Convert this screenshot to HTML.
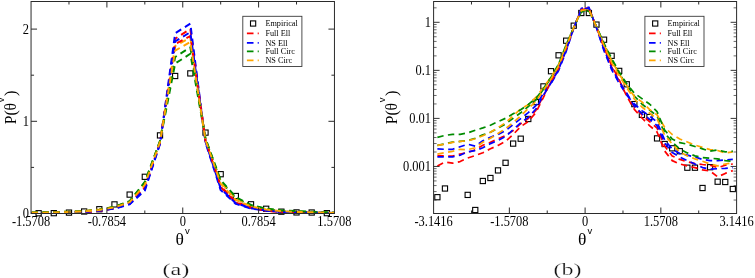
<!DOCTYPE html>
<html><head><meta charset="utf-8"><title>fig</title>
<style>html,body{margin:0;padding:0;background:#fff;}svg{display:block;will-change:transform;}</style></head>
<body>
<svg width="755" height="278" viewBox="0 0 755 278">
<rect width="755" height="278" fill="#ffffff"/>
<defs><clipPath id="cl"><rect x="31.05" y="1.5" width="303.4" height="212"/></clipPath><clipPath id="cr"><rect x="433.6" y="1.5" width="303" height="212"/></clipPath></defs>
<g>
<rect x="36.03" y="210.62" width="5.2" height="5.2" fill="none" stroke="#000" stroke-width="1.1"/>
<rect x="51.20" y="210.55" width="5.2" height="5.2" fill="none" stroke="#000" stroke-width="1.1"/>
<rect x="66.38" y="210.00" width="5.2" height="5.2" fill="none" stroke="#000" stroke-width="1.1"/>
<rect x="81.55" y="208.89" width="5.2" height="5.2" fill="none" stroke="#000" stroke-width="1.1"/>
<rect x="96.72" y="206.63" width="5.2" height="5.2" fill="none" stroke="#000" stroke-width="1.1"/>
<rect x="111.88" y="201.80" width="5.2" height="5.2" fill="none" stroke="#000" stroke-width="1.1"/>
<rect x="127.06" y="192.00" width="5.2" height="5.2" fill="none" stroke="#000" stroke-width="1.1"/>
<rect x="142.22" y="174.20" width="5.2" height="5.2" fill="none" stroke="#000" stroke-width="1.1"/>
<rect x="157.40" y="132.80" width="5.2" height="5.2" fill="none" stroke="#000" stroke-width="1.1"/>
<rect x="172.56" y="73.40" width="5.2" height="5.2" fill="none" stroke="#000" stroke-width="1.1"/>
<rect x="187.73" y="70.80" width="5.2" height="5.2" fill="none" stroke="#000" stroke-width="1.1"/>
<rect x="202.91" y="130.00" width="5.2" height="5.2" fill="none" stroke="#000" stroke-width="1.1"/>
<rect x="218.07" y="171.60" width="5.2" height="5.2" fill="none" stroke="#000" stroke-width="1.1"/>
<rect x="233.25" y="193.40" width="5.2" height="5.2" fill="none" stroke="#000" stroke-width="1.1"/>
<rect x="248.41" y="201.70" width="5.2" height="5.2" fill="none" stroke="#000" stroke-width="1.1"/>
<rect x="263.58" y="206.17" width="5.2" height="5.2" fill="none" stroke="#000" stroke-width="1.1"/>
<rect x="278.75" y="209.07" width="5.2" height="5.2" fill="none" stroke="#000" stroke-width="1.1"/>
<rect x="293.92" y="209.81" width="5.2" height="5.2" fill="none" stroke="#000" stroke-width="1.1"/>
<rect x="309.09" y="209.91" width="5.2" height="5.2" fill="none" stroke="#000" stroke-width="1.1"/>
<rect x="324.26" y="210.55" width="5.2" height="5.2" fill="none" stroke="#000" stroke-width="1.1"/>
</g><g clip-path="url(#cl)">
<polyline points="-113.06,213.34 -97.90,213.35 -82.72,213.35 -67.56,213.33 -52.38,213.32 -37.21,213.29 -22.05,213.25 -6.88,213.21 8.29,213.15 23.46,213.09 38.63,212.99 53.80,212.78 68.97,212.58 84.14,212.14 99.31,210.78 114.48,208.22 129.66,203.57 144.82,188.46 160.00,143.00 175.16,38.70 190.33,29.00 205.50,141.29 220.67,186.98 235.84,202.57 251.01,208.02 266.19,210.50 281.36,211.91 296.52,212.41 311.69,212.71 326.87,212.92 342.03,213.25 357.20,213.35 372.38,213.37 387.55,213.38 402.71,213.39 417.88,213.40 433.06,213.40 448.22,213.41 463.39,213.40 478.56,213.40" fill="none" stroke="#ff0000" stroke-width="1.95" stroke-dasharray="6.4 4.4" stroke-dashoffset="6.5" stroke-linejoin="round"/>
<polyline points="-113.06,213.29 -97.90,213.29 -82.72,213.29 -67.56,213.26 -52.38,213.23 -37.21,213.26 -22.05,213.18 -6.88,213.13 8.29,213.07 23.46,212.99 38.63,212.81 53.80,212.59 68.97,212.28 84.14,211.80 99.31,210.42 114.48,208.61 129.66,204.39 144.82,190.64 160.00,144.01 175.16,33.30 190.33,23.60 205.50,142.66 220.67,190.08 235.84,203.94 251.01,208.52 266.19,210.70 281.36,211.66 296.52,212.16 311.69,212.47 326.87,212.72 342.03,213.17 357.20,213.29 372.38,213.33 387.55,213.34 402.71,213.35 417.88,213.37 433.06,213.38 448.22,213.38 463.39,213.37 478.56,213.37" fill="none" stroke="#0000ff" stroke-width="1.95" stroke-dasharray="6.4 4.4" stroke-dashoffset="6.5" stroke-linejoin="round"/>
<polyline points="-113.06,213.25 -97.90,213.23 -82.72,213.21 -67.56,213.19 -52.38,213.18 -37.21,213.14 -22.05,213.08 -6.88,213.02 8.29,212.92 23.46,212.80 38.63,212.57 53.80,212.29 68.97,211.87 84.14,211.27 99.31,209.76 114.48,207.11 129.66,201.41 144.82,182.73 160.00,141.29 175.16,63.50 190.33,53.80 205.50,138.83 220.67,181.22 235.84,198.21 251.01,205.50 266.19,208.93 281.36,210.80 296.52,211.66 311.69,212.12 326.87,212.46 342.03,213.04 357.20,213.20 372.38,213.29 387.55,213.32 402.71,213.35 417.88,213.36 433.06,213.36 448.22,213.37 463.39,213.38 478.56,213.38" fill="none" stroke="#008b00" stroke-width="1.95" stroke-dasharray="6.4 4.4" stroke-dashoffset="6.5" stroke-linejoin="round"/>
<polyline points="-113.06,213.25 -97.90,213.23 -82.72,213.21 -67.56,213.19 -52.38,213.18 -37.21,213.15 -22.05,213.10 -6.88,213.03 8.29,212.91 23.46,212.75 38.63,212.46 53.80,212.04 68.97,211.73 84.14,210.98 99.31,209.45 114.48,206.80 129.66,201.70 144.82,183.46 160.00,141.64 175.16,46.00 190.33,37.60 205.50,139.54 220.67,182.13 235.84,198.79 251.01,205.83 266.19,209.04 281.36,210.87 296.52,211.47 311.69,212.08 326.87,212.40 342.03,212.90 357.20,213.07 372.38,213.16 387.55,213.20 402.71,213.24 417.88,213.27 433.06,213.29 448.22,213.30 463.39,213.32 478.56,213.31" fill="none" stroke="#ffa500" stroke-width="1.95" stroke-dasharray="6.4 4.4" stroke-dashoffset="6.5" stroke-linejoin="round"/>
<polyline points="-113.06,213.41 -97.90,213.39 -82.72,213.39 -67.56,213.38 -52.38,213.36 -37.21,213.34 -22.05,213.32 -6.88,213.29 8.29,213.25 23.46,213.19 38.63,213.07 53.80,212.88 68.97,212.71 84.14,212.28 99.31,210.98 114.48,208.10 129.66,203.18 144.82,187.23 160.00,142.66 175.16,44.00 190.33,36.00 205.50,140.60 220.67,186.07 235.84,201.87 251.01,207.64 266.19,210.84 281.36,212.08 296.52,212.56 311.69,212.85 326.87,213.02 342.03,213.31 357.20,213.38 372.38,213.40 387.55,213.41 402.71,213.41 417.88,213.42 433.06,213.43 448.22,213.44 463.39,213.43 478.56,213.42" fill="none" stroke="#ff0000" stroke-width="1.95" stroke-dasharray="6.4 4.4" stroke-dashoffset="6.5" stroke-linejoin="round"/>
<polyline points="-113.06,213.35 -97.90,213.35 -82.72,213.35 -67.56,213.34 -52.38,213.31 -37.21,213.30 -22.05,213.27 -6.88,213.22 8.29,213.18 23.46,213.11 38.63,212.96 53.80,212.75 68.97,212.53 84.14,212.05 99.31,210.70 114.48,208.47 129.66,203.94 144.82,189.40 160.00,143.34 175.16,41.30 190.33,32.20 205.50,141.64 220.67,188.58 235.84,203.18 251.01,208.22 266.19,210.43 281.36,211.85 296.52,212.35 311.69,212.61 326.87,212.85 342.03,213.22 357.20,213.32 372.38,213.35 387.55,213.38 402.71,213.40 417.88,213.41 433.06,213.42 448.22,213.42 463.39,213.42 478.56,213.41" fill="none" stroke="#0000ff" stroke-width="1.95" stroke-dasharray="6.4 4.4" stroke-dashoffset="6.5" stroke-linejoin="round"/>
<polyline points="-113.06,213.13 -97.90,213.09 -82.72,213.07 -67.56,213.07 -52.38,213.04 -37.21,212.98 -22.05,212.92 -6.88,212.83 8.29,212.71 23.46,212.57 38.63,212.35 53.80,212.11 68.97,211.70 84.14,211.12 99.31,209.64 114.48,206.86 129.66,201.12 144.82,181.98 160.00,140.94 175.16,57.00 190.33,47.30 205.50,138.47 220.67,180.12 235.84,197.07 251.01,204.98 266.19,208.66 281.36,210.42 296.52,211.12 311.69,211.66 326.87,212.22 342.03,212.97 357.20,213.16 372.38,213.21 387.55,213.23 402.71,213.26 417.88,213.29 433.06,213.31 448.22,213.30 463.39,213.31 478.56,213.31" fill="none" stroke="#008b00" stroke-width="1.95" stroke-dasharray="6.4 4.4" stroke-dashoffset="6.5" stroke-linejoin="round"/>
<polyline points="-113.06,213.33 -97.90,213.32 -82.72,213.31 -67.56,213.29 -52.38,213.29 -37.21,213.27 -22.05,213.21 -6.88,213.14 8.29,213.05 23.46,212.93 38.63,212.75 53.80,212.46 68.97,212.02 84.14,211.43 99.31,209.96 114.48,207.41 129.66,202.14 144.82,184.86 160.00,141.98 175.16,50.60 190.33,42.00 205.50,140.25 220.67,183.60 235.84,200.00 251.01,206.47 266.19,209.50 281.36,211.16 296.52,211.91 311.69,212.31 326.87,212.60 342.03,213.08 357.20,213.23 372.38,213.32 387.55,213.35 402.71,213.37 417.88,213.38 433.06,213.40 448.22,213.41 463.39,213.40 478.56,213.39" fill="none" stroke="#ffa500" stroke-width="1.95" stroke-dasharray="6.4 4.4" stroke-dashoffset="6.5" stroke-linejoin="round"/>
</g>
<g>
<rect x="434.79" y="194.60" width="5.2" height="5.2" fill="none" stroke="#000" stroke-width="1.1"/>
<rect x="442.36" y="185.90" width="5.2" height="5.2" fill="none" stroke="#000" stroke-width="1.1"/>
<rect x="465.09" y="192.30" width="5.2" height="5.2" fill="none" stroke="#000" stroke-width="1.1"/>
<rect x="472.66" y="207.40" width="5.2" height="5.2" fill="none" stroke="#000" stroke-width="1.1"/>
<rect x="480.24" y="178.40" width="5.2" height="5.2" fill="none" stroke="#000" stroke-width="1.1"/>
<rect x="487.81" y="175.40" width="5.2" height="5.2" fill="none" stroke="#000" stroke-width="1.1"/>
<rect x="495.39" y="167.80" width="5.2" height="5.2" fill="none" stroke="#000" stroke-width="1.1"/>
<rect x="502.96" y="160.20" width="5.2" height="5.2" fill="none" stroke="#000" stroke-width="1.1"/>
<rect x="510.54" y="141.00" width="5.2" height="5.2" fill="none" stroke="#000" stroke-width="1.1"/>
<rect x="518.11" y="136.10" width="5.2" height="5.2" fill="none" stroke="#000" stroke-width="1.1"/>
<rect x="525.69" y="116.40" width="5.2" height="5.2" fill="none" stroke="#000" stroke-width="1.1"/>
<rect x="533.26" y="99.50" width="5.2" height="5.2" fill="none" stroke="#000" stroke-width="1.1"/>
<rect x="540.84" y="83.80" width="5.2" height="5.2" fill="none" stroke="#000" stroke-width="1.1"/>
<rect x="548.41" y="68.60" width="5.2" height="5.2" fill="none" stroke="#000" stroke-width="1.1"/>
<rect x="555.99" y="52.70" width="5.2" height="5.2" fill="none" stroke="#000" stroke-width="1.1"/>
<rect x="563.56" y="38.10" width="5.2" height="5.2" fill="none" stroke="#000" stroke-width="1.1"/>
<rect x="571.14" y="23.10" width="5.2" height="5.2" fill="none" stroke="#000" stroke-width="1.1"/>
<rect x="578.71" y="10.40" width="5.2" height="5.2" fill="none" stroke="#000" stroke-width="1.1"/>
<rect x="586.29" y="10.40" width="5.2" height="5.2" fill="none" stroke="#000" stroke-width="1.1"/>
<rect x="593.86" y="22.00" width="5.2" height="5.2" fill="none" stroke="#000" stroke-width="1.1"/>
<rect x="601.44" y="37.10" width="5.2" height="5.2" fill="none" stroke="#000" stroke-width="1.1"/>
<rect x="609.01" y="53.20" width="5.2" height="5.2" fill="none" stroke="#000" stroke-width="1.1"/>
<rect x="616.59" y="68.30" width="5.2" height="5.2" fill="none" stroke="#000" stroke-width="1.1"/>
<rect x="624.16" y="81.70" width="5.2" height="5.2" fill="none" stroke="#000" stroke-width="1.1"/>
<rect x="631.74" y="101.50" width="5.2" height="5.2" fill="none" stroke="#000" stroke-width="1.1"/>
<rect x="639.31" y="112.30" width="5.2" height="5.2" fill="none" stroke="#000" stroke-width="1.1"/>
<rect x="646.89" y="114.40" width="5.2" height="5.2" fill="none" stroke="#000" stroke-width="1.1"/>
<rect x="654.46" y="135.80" width="5.2" height="5.2" fill="none" stroke="#000" stroke-width="1.1"/>
<rect x="662.04" y="141.40" width="5.2" height="5.2" fill="none" stroke="#000" stroke-width="1.1"/>
<rect x="669.61" y="145.70" width="5.2" height="5.2" fill="none" stroke="#000" stroke-width="1.1"/>
<rect x="677.19" y="148.60" width="5.2" height="5.2" fill="none" stroke="#000" stroke-width="1.1"/>
<rect x="684.76" y="165.10" width="5.2" height="5.2" fill="none" stroke="#000" stroke-width="1.1"/>
<rect x="692.34" y="165.10" width="5.2" height="5.2" fill="none" stroke="#000" stroke-width="1.1"/>
<rect x="699.91" y="185.40" width="5.2" height="5.2" fill="none" stroke="#000" stroke-width="1.1"/>
<rect x="707.49" y="164.60" width="5.2" height="5.2" fill="none" stroke="#000" stroke-width="1.1"/>
<rect x="715.06" y="179.10" width="5.2" height="5.2" fill="none" stroke="#000" stroke-width="1.1"/>
<rect x="722.64" y="179.40" width="5.2" height="5.2" fill="none" stroke="#000" stroke-width="1.1"/>
<rect x="730.21" y="186.40" width="5.2" height="5.2" fill="none" stroke="#000" stroke-width="1.1"/>
</g><g clip-path="url(#cr)">
<polyline points="437.39,155.60 444.96,156.00 452.54,156.00 460.11,154.00 467.69,152.70 475.26,149.70 482.84,145.30 490.41,142.30 497.99,138.90 505.56,135.50 513.14,130.60 520.71,123.70 528.29,118.50 535.86,110.30 543.44,95.80 551.01,82.00 558.59,68.80 566.16,49.50 573.74,27.90 581.31,8.95 588.89,7.82 596.46,27.40 604.04,48.30 611.61,66.80 619.19,81.20 626.76,93.80 634.34,107.00 641.91,115.00 649.49,121.50 657.06,128.00 664.64,146.00 672.21,155.90 679.79,159.40 687.36,161.70 694.94,163.60 702.51,164.50 710.09,165.20 717.66,167.60 725.24,165.20 732.81,164.00" fill="none" stroke="#ff0000" stroke-width="1.7" stroke-dasharray="6.4 4.4" stroke-linejoin="round"/>
<polyline points="437.39,148.90 444.96,149.30 452.54,149.30 460.11,146.70 467.69,144.20 475.26,146.10 482.84,140.80 490.41,137.20 497.99,134.50 505.56,130.60 513.14,124.60 520.71,118.70 528.29,112.60 535.86,105.60 543.44,93.20 551.01,83.60 558.59,70.60 566.16,51.40 573.74,28.20 581.31,8.32 588.89,7.22 596.46,27.80 604.04,50.90 611.61,69.60 619.19,83.20 626.76,95.20 634.34,104.00 641.91,110.60 649.49,116.00 657.06,122.00 664.64,140.00 672.21,149.00 679.79,153.60 687.36,155.20 694.94,157.00 702.51,159.40 710.09,160.60 717.66,160.60 725.24,159.90 732.81,159.40" fill="none" stroke="#0000ff" stroke-width="1.7" stroke-dasharray="6.4 4.4" stroke-linejoin="round"/>
<polyline points="437.39,145.30 444.96,143.80 452.54,142.20 460.11,141.40 467.69,140.60 475.26,138.20 482.84,134.90 490.41,132.20 497.99,128.20 505.56,124.00 513.14,118.30 520.71,112.80 528.29,106.50 535.86,100.00 543.44,89.20 551.01,78.00 558.59,64.70 566.16,45.20 573.74,27.40 581.31,12.14 588.89,10.84 596.46,26.70 604.04,44.20 611.61,59.80 619.19,73.30 626.76,85.00 634.34,96.00 641.91,104.00 649.49,110.00 657.06,115.90 664.64,133.00 672.21,142.00 679.79,149.00 687.36,152.90 694.94,155.90 702.51,157.50 710.09,158.20 717.66,158.90 725.24,160.60 732.81,161.30" fill="none" stroke="#008b00" stroke-width="1.7" stroke-dasharray="6.4 4.4" stroke-linejoin="round"/>
<polyline points="437.39,145.30 444.96,144.20 452.54,142.40 460.11,141.40 467.69,140.80 475.26,138.80 482.84,135.80 490.41,132.30 497.99,127.60 505.56,122.70 513.14,115.80 520.71,108.80 528.29,104.80 535.86,97.40 543.44,87.50 551.01,77.00 558.59,65.20 566.16,45.70 573.74,27.50 581.31,9.84 588.89,8.82 596.46,26.90 604.04,44.80 611.61,60.60 619.19,74.20 626.76,85.50 634.34,96.50 641.91,101.90 649.49,109.40 657.06,114.80 664.64,127.30 672.21,134.50 679.79,139.00 687.36,142.00 694.94,145.00 702.51,147.40 710.09,149.60 717.66,150.50 725.24,152.90 732.81,151.90" fill="none" stroke="#ffa500" stroke-width="1.7" stroke-dasharray="6.4 4.4" stroke-linejoin="round"/>
<polyline points="437.39,165.90 444.96,162.00 452.54,163.20 460.11,161.60 467.69,158.00 475.26,155.60 482.84,152.70 490.41,148.80 497.99,145.40 505.56,141.40 513.14,134.50 520.71,126.60 528.29,121.50 535.86,112.60 543.44,97.40 551.01,81.50 558.59,68.00 566.16,48.50 573.74,27.80 581.31,9.59 588.89,8.63 596.46,27.20 604.04,47.60 611.61,65.50 619.19,79.80 626.76,96.30 634.34,109.40 641.91,118.00 649.49,125.60 657.06,132.00 664.64,151.00 672.21,160.60 679.79,164.00 687.36,165.90 694.94,167.60 702.51,169.90 710.09,171.00 717.66,176.90 725.24,173.40 732.81,170.60" fill="none" stroke="#ff0000" stroke-width="1.7" stroke-dasharray="6.4 4.4" stroke-linejoin="round"/>
<polyline points="437.39,156.80 444.96,157.00 452.54,156.80 460.11,155.20 467.69,151.70 475.26,150.70 482.84,147.70 490.41,143.60 497.99,140.50 505.56,136.50 513.14,129.60 520.71,122.70 528.29,117.30 535.86,109.00 543.44,95.20 551.01,83.00 558.59,69.60 566.16,50.30 573.74,28.00 581.31,9.26 588.89,8.19 596.46,27.50 604.04,49.60 611.61,68.00 619.19,82.00 626.76,93.30 634.34,106.20 641.91,113.70 649.49,119.10 657.06,125.60 664.64,143.00 672.21,152.40 679.79,157.00 687.36,160.60 694.94,164.00 702.51,167.60 710.09,169.20 717.66,168.70 725.24,168.30 732.81,167.60" fill="none" stroke="#0000ff" stroke-width="1.7" stroke-dasharray="6.4 4.4" stroke-linejoin="round"/>
<polyline points="437.39,137.40 444.96,135.40 452.54,134.30 460.11,134.30 467.69,132.90 475.26,130.30 482.84,127.90 490.41,125.20 497.99,121.70 505.56,118.30 513.14,113.80 520.71,109.80 528.29,104.40 535.86,98.60 543.44,88.50 551.01,77.20 558.59,64.20 566.16,44.70 573.74,27.30 581.31,11.26 588.89,10.00 596.46,26.60 604.04,43.50 611.61,58.30 619.19,72.00 626.76,83.80 634.34,93.20 641.91,98.60 649.49,104.00 657.06,111.60 664.64,130.00 672.21,139.00 679.79,142.70 687.36,144.20 694.94,146.50 702.51,148.90 710.09,151.20 717.66,150.00 725.24,151.90 732.81,151.20" fill="none" stroke="#008b00" stroke-width="1.7" stroke-dasharray="6.4 4.4" stroke-linejoin="round"/>
<polyline points="437.39,154.00 444.96,152.70 452.54,151.30 460.11,149.30 467.69,149.70 475.26,147.70 482.84,142.20 490.41,138.20 497.99,133.50 505.56,128.60 513.14,122.70 520.71,115.80 528.29,108.50 535.86,101.50 543.44,90.30 551.01,79.00 558.59,66.00 566.16,46.70 573.74,27.60 581.31,10.42 588.89,9.35 596.46,27.10 604.04,45.80 611.61,62.40 619.19,76.00 626.76,87.80 634.34,99.00 641.91,107.00 649.49,113.00 657.06,119.00 664.64,135.00 672.21,144.00 679.79,152.00 687.36,155.90 694.94,158.90 702.51,161.30 710.09,164.00 717.66,165.90 725.24,164.00 732.81,162.90" fill="none" stroke="#ffa500" stroke-width="1.7" stroke-dasharray="6.4 4.4" stroke-linejoin="round"/>
</g>
<rect x="31.05" y="1.5" width="303.4" height="212.0" fill="none" stroke="#2a2a2a" stroke-width="1"/>
<rect x="433.6" y="1.5" width="303.0" height="212.0" fill="none" stroke="#2a2a2a" stroke-width="1"/>
<line x1="68.97" y1="213.50" x2="68.97" y2="210.50" stroke="#2a2a2a" stroke-width="1.0"/>
<line x1="68.97" y1="1.50" x2="68.97" y2="4.50" stroke="#2a2a2a" stroke-width="1.0"/>
<line x1="106.90" y1="213.50" x2="106.90" y2="207.50" stroke="#2a2a2a" stroke-width="1.0"/>
<line x1="106.90" y1="1.50" x2="106.90" y2="7.50" stroke="#2a2a2a" stroke-width="1.0"/>
<line x1="144.82" y1="213.50" x2="144.82" y2="210.50" stroke="#2a2a2a" stroke-width="1.0"/>
<line x1="144.82" y1="1.50" x2="144.82" y2="4.50" stroke="#2a2a2a" stroke-width="1.0"/>
<line x1="182.75" y1="213.50" x2="182.75" y2="207.50" stroke="#2a2a2a" stroke-width="1.0"/>
<line x1="182.75" y1="1.50" x2="182.75" y2="7.50" stroke="#2a2a2a" stroke-width="1.0"/>
<line x1="220.68" y1="213.50" x2="220.68" y2="210.50" stroke="#2a2a2a" stroke-width="1.0"/>
<line x1="220.68" y1="1.50" x2="220.68" y2="4.50" stroke="#2a2a2a" stroke-width="1.0"/>
<line x1="258.60" y1="213.50" x2="258.60" y2="207.50" stroke="#2a2a2a" stroke-width="1.0"/>
<line x1="258.60" y1="1.50" x2="258.60" y2="7.50" stroke="#2a2a2a" stroke-width="1.0"/>
<line x1="296.52" y1="213.50" x2="296.52" y2="210.50" stroke="#2a2a2a" stroke-width="1.0"/>
<line x1="296.52" y1="1.50" x2="296.52" y2="4.50" stroke="#2a2a2a" stroke-width="1.0"/>
<line x1="31.05" y1="167.40" x2="34.05" y2="167.40" stroke="#2a2a2a" stroke-width="1.0"/>
<line x1="334.45" y1="167.40" x2="331.45" y2="167.40" stroke="#2a2a2a" stroke-width="1.0"/>
<line x1="31.05" y1="121.30" x2="37.05" y2="121.30" stroke="#2a2a2a" stroke-width="1.0"/>
<line x1="334.45" y1="121.30" x2="328.45" y2="121.30" stroke="#2a2a2a" stroke-width="1.0"/>
<line x1="31.05" y1="75.20" x2="34.05" y2="75.20" stroke="#2a2a2a" stroke-width="1.0"/>
<line x1="334.45" y1="75.20" x2="331.45" y2="75.20" stroke="#2a2a2a" stroke-width="1.0"/>
<line x1="31.05" y1="29.10" x2="37.05" y2="29.10" stroke="#2a2a2a" stroke-width="1.0"/>
<line x1="334.45" y1="29.10" x2="328.45" y2="29.10" stroke="#2a2a2a" stroke-width="1.0"/>
<line x1="471.48" y1="213.50" x2="471.48" y2="210.50" stroke="#2a2a2a" stroke-width="1.0"/>
<line x1="471.48" y1="1.50" x2="471.48" y2="4.50" stroke="#2a2a2a" stroke-width="1.0"/>
<line x1="509.35" y1="213.50" x2="509.35" y2="207.50" stroke="#2a2a2a" stroke-width="1.0"/>
<line x1="509.35" y1="1.50" x2="509.35" y2="7.50" stroke="#2a2a2a" stroke-width="1.0"/>
<line x1="547.23" y1="213.50" x2="547.23" y2="210.50" stroke="#2a2a2a" stroke-width="1.0"/>
<line x1="547.23" y1="1.50" x2="547.23" y2="4.50" stroke="#2a2a2a" stroke-width="1.0"/>
<line x1="585.10" y1="213.50" x2="585.10" y2="207.50" stroke="#2a2a2a" stroke-width="1.0"/>
<line x1="585.10" y1="1.50" x2="585.10" y2="7.50" stroke="#2a2a2a" stroke-width="1.0"/>
<line x1="622.98" y1="213.50" x2="622.98" y2="210.50" stroke="#2a2a2a" stroke-width="1.0"/>
<line x1="622.98" y1="1.50" x2="622.98" y2="4.50" stroke="#2a2a2a" stroke-width="1.0"/>
<line x1="660.85" y1="213.50" x2="660.85" y2="207.50" stroke="#2a2a2a" stroke-width="1.0"/>
<line x1="660.85" y1="1.50" x2="660.85" y2="7.50" stroke="#2a2a2a" stroke-width="1.0"/>
<line x1="698.73" y1="213.50" x2="698.73" y2="210.50" stroke="#2a2a2a" stroke-width="1.0"/>
<line x1="698.73" y1="1.50" x2="698.73" y2="4.50" stroke="#2a2a2a" stroke-width="1.0"/>
<line x1="433.60" y1="200.04" x2="436.60" y2="200.04" stroke="#2a2a2a" stroke-width="0.7"/>
<line x1="736.60" y1="200.04" x2="733.60" y2="200.04" stroke="#2a2a2a" stroke-width="0.7"/>
<line x1="433.60" y1="191.57" x2="436.60" y2="191.57" stroke="#2a2a2a" stroke-width="0.7"/>
<line x1="736.60" y1="191.57" x2="733.60" y2="191.57" stroke="#2a2a2a" stroke-width="0.7"/>
<line x1="433.60" y1="185.57" x2="436.60" y2="185.57" stroke="#2a2a2a" stroke-width="0.7"/>
<line x1="736.60" y1="185.57" x2="733.60" y2="185.57" stroke="#2a2a2a" stroke-width="0.7"/>
<line x1="433.60" y1="180.91" x2="436.60" y2="180.91" stroke="#2a2a2a" stroke-width="0.7"/>
<line x1="736.60" y1="180.91" x2="733.60" y2="180.91" stroke="#2a2a2a" stroke-width="0.7"/>
<line x1="433.60" y1="177.11" x2="436.60" y2="177.11" stroke="#2a2a2a" stroke-width="0.7"/>
<line x1="736.60" y1="177.11" x2="733.60" y2="177.11" stroke="#2a2a2a" stroke-width="0.7"/>
<line x1="433.60" y1="173.89" x2="436.60" y2="173.89" stroke="#2a2a2a" stroke-width="0.7"/>
<line x1="736.60" y1="173.89" x2="733.60" y2="173.89" stroke="#2a2a2a" stroke-width="0.7"/>
<line x1="433.60" y1="171.11" x2="436.60" y2="171.11" stroke="#2a2a2a" stroke-width="0.7"/>
<line x1="736.60" y1="171.11" x2="733.60" y2="171.11" stroke="#2a2a2a" stroke-width="0.7"/>
<line x1="433.60" y1="168.65" x2="436.60" y2="168.65" stroke="#2a2a2a" stroke-width="0.7"/>
<line x1="736.60" y1="168.65" x2="733.60" y2="168.65" stroke="#2a2a2a" stroke-width="0.7"/>
<line x1="433.60" y1="166.45" x2="439.60" y2="166.45" stroke="#2a2a2a" stroke-width="0.95"/>
<line x1="736.60" y1="166.45" x2="730.60" y2="166.45" stroke="#2a2a2a" stroke-width="0.95"/>
<line x1="433.60" y1="151.99" x2="436.60" y2="151.99" stroke="#2a2a2a" stroke-width="0.7"/>
<line x1="736.60" y1="151.99" x2="733.60" y2="151.99" stroke="#2a2a2a" stroke-width="0.7"/>
<line x1="433.60" y1="143.52" x2="436.60" y2="143.52" stroke="#2a2a2a" stroke-width="0.7"/>
<line x1="736.60" y1="143.52" x2="733.60" y2="143.52" stroke="#2a2a2a" stroke-width="0.7"/>
<line x1="433.60" y1="137.52" x2="436.60" y2="137.52" stroke="#2a2a2a" stroke-width="0.7"/>
<line x1="736.60" y1="137.52" x2="733.60" y2="137.52" stroke="#2a2a2a" stroke-width="0.7"/>
<line x1="433.60" y1="132.86" x2="436.60" y2="132.86" stroke="#2a2a2a" stroke-width="0.7"/>
<line x1="736.60" y1="132.86" x2="733.60" y2="132.86" stroke="#2a2a2a" stroke-width="0.7"/>
<line x1="433.60" y1="129.06" x2="436.60" y2="129.06" stroke="#2a2a2a" stroke-width="0.7"/>
<line x1="736.60" y1="129.06" x2="733.60" y2="129.06" stroke="#2a2a2a" stroke-width="0.7"/>
<line x1="433.60" y1="125.84" x2="436.60" y2="125.84" stroke="#2a2a2a" stroke-width="0.7"/>
<line x1="736.60" y1="125.84" x2="733.60" y2="125.84" stroke="#2a2a2a" stroke-width="0.7"/>
<line x1="433.60" y1="123.06" x2="436.60" y2="123.06" stroke="#2a2a2a" stroke-width="0.7"/>
<line x1="736.60" y1="123.06" x2="733.60" y2="123.06" stroke="#2a2a2a" stroke-width="0.7"/>
<line x1="433.60" y1="120.60" x2="436.60" y2="120.60" stroke="#2a2a2a" stroke-width="0.7"/>
<line x1="736.60" y1="120.60" x2="733.60" y2="120.60" stroke="#2a2a2a" stroke-width="0.7"/>
<line x1="433.60" y1="118.40" x2="439.60" y2="118.40" stroke="#2a2a2a" stroke-width="0.95"/>
<line x1="736.60" y1="118.40" x2="730.60" y2="118.40" stroke="#2a2a2a" stroke-width="0.95"/>
<line x1="433.60" y1="103.94" x2="436.60" y2="103.94" stroke="#2a2a2a" stroke-width="0.7"/>
<line x1="736.60" y1="103.94" x2="733.60" y2="103.94" stroke="#2a2a2a" stroke-width="0.7"/>
<line x1="433.60" y1="95.47" x2="436.60" y2="95.47" stroke="#2a2a2a" stroke-width="0.7"/>
<line x1="736.60" y1="95.47" x2="733.60" y2="95.47" stroke="#2a2a2a" stroke-width="0.7"/>
<line x1="433.60" y1="89.47" x2="436.60" y2="89.47" stroke="#2a2a2a" stroke-width="0.7"/>
<line x1="736.60" y1="89.47" x2="733.60" y2="89.47" stroke="#2a2a2a" stroke-width="0.7"/>
<line x1="433.60" y1="84.81" x2="436.60" y2="84.81" stroke="#2a2a2a" stroke-width="0.7"/>
<line x1="736.60" y1="84.81" x2="733.60" y2="84.81" stroke="#2a2a2a" stroke-width="0.7"/>
<line x1="433.60" y1="81.01" x2="436.60" y2="81.01" stroke="#2a2a2a" stroke-width="0.7"/>
<line x1="736.60" y1="81.01" x2="733.60" y2="81.01" stroke="#2a2a2a" stroke-width="0.7"/>
<line x1="433.60" y1="77.79" x2="436.60" y2="77.79" stroke="#2a2a2a" stroke-width="0.7"/>
<line x1="736.60" y1="77.79" x2="733.60" y2="77.79" stroke="#2a2a2a" stroke-width="0.7"/>
<line x1="433.60" y1="75.01" x2="436.60" y2="75.01" stroke="#2a2a2a" stroke-width="0.7"/>
<line x1="736.60" y1="75.01" x2="733.60" y2="75.01" stroke="#2a2a2a" stroke-width="0.7"/>
<line x1="433.60" y1="72.55" x2="436.60" y2="72.55" stroke="#2a2a2a" stroke-width="0.7"/>
<line x1="736.60" y1="72.55" x2="733.60" y2="72.55" stroke="#2a2a2a" stroke-width="0.7"/>
<line x1="433.60" y1="70.35" x2="439.60" y2="70.35" stroke="#2a2a2a" stroke-width="0.95"/>
<line x1="736.60" y1="70.35" x2="730.60" y2="70.35" stroke="#2a2a2a" stroke-width="0.95"/>
<line x1="433.60" y1="55.89" x2="436.60" y2="55.89" stroke="#2a2a2a" stroke-width="0.7"/>
<line x1="736.60" y1="55.89" x2="733.60" y2="55.89" stroke="#2a2a2a" stroke-width="0.7"/>
<line x1="433.60" y1="47.42" x2="436.60" y2="47.42" stroke="#2a2a2a" stroke-width="0.7"/>
<line x1="736.60" y1="47.42" x2="733.60" y2="47.42" stroke="#2a2a2a" stroke-width="0.7"/>
<line x1="433.60" y1="41.42" x2="436.60" y2="41.42" stroke="#2a2a2a" stroke-width="0.7"/>
<line x1="736.60" y1="41.42" x2="733.60" y2="41.42" stroke="#2a2a2a" stroke-width="0.7"/>
<line x1="433.60" y1="36.76" x2="436.60" y2="36.76" stroke="#2a2a2a" stroke-width="0.7"/>
<line x1="736.60" y1="36.76" x2="733.60" y2="36.76" stroke="#2a2a2a" stroke-width="0.7"/>
<line x1="433.60" y1="32.96" x2="436.60" y2="32.96" stroke="#2a2a2a" stroke-width="0.7"/>
<line x1="736.60" y1="32.96" x2="733.60" y2="32.96" stroke="#2a2a2a" stroke-width="0.7"/>
<line x1="433.60" y1="29.74" x2="436.60" y2="29.74" stroke="#2a2a2a" stroke-width="0.7"/>
<line x1="736.60" y1="29.74" x2="733.60" y2="29.74" stroke="#2a2a2a" stroke-width="0.7"/>
<line x1="433.60" y1="26.96" x2="436.60" y2="26.96" stroke="#2a2a2a" stroke-width="0.7"/>
<line x1="736.60" y1="26.96" x2="733.60" y2="26.96" stroke="#2a2a2a" stroke-width="0.7"/>
<line x1="433.60" y1="24.50" x2="436.60" y2="24.50" stroke="#2a2a2a" stroke-width="0.7"/>
<line x1="736.60" y1="24.50" x2="733.60" y2="24.50" stroke="#2a2a2a" stroke-width="0.7"/>
<line x1="433.60" y1="22.30" x2="439.60" y2="22.30" stroke="#2a2a2a" stroke-width="0.95"/>
<line x1="736.60" y1="22.30" x2="730.60" y2="22.30" stroke="#2a2a2a" stroke-width="0.95"/>
<line x1="433.60" y1="7.84" x2="436.60" y2="7.84" stroke="#2a2a2a" stroke-width="0.7"/>
<line x1="736.60" y1="7.84" x2="733.60" y2="7.84" stroke="#2a2a2a" stroke-width="0.7"/>
<text transform="translate(31.05,225.8) scale(0.915,1)" font-family="Liberation Serif, serif" font-size="13.6" text-anchor="middle" fill="#000" >-1.5708</text>
<text transform="translate(106.9,225.8) scale(0.915,1)" font-family="Liberation Serif, serif" font-size="13.6" text-anchor="middle" fill="#000" >-0.7854</text>
<text transform="translate(182.75,225.8) scale(0.915,1)" font-family="Liberation Serif, serif" font-size="13.6" text-anchor="middle" fill="#000" >0</text>
<text transform="translate(258.6,225.8) scale(0.915,1)" font-family="Liberation Serif, serif" font-size="13.6" text-anchor="middle" fill="#000" >0.7854</text>
<text transform="translate(334.45,225.8) scale(0.915,1)" font-family="Liberation Serif, serif" font-size="13.6" text-anchor="middle" fill="#000" >1.5708</text>
<text transform="translate(29.0,218.2) scale(0.915,1)" font-family="Liberation Serif, serif" font-size="13.6" text-anchor="end" fill="#000" >0</text>
<text transform="translate(29.0,125.89999999999999) scale(0.915,1)" font-family="Liberation Serif, serif" font-size="13.6" text-anchor="end" fill="#000" >1</text>
<text transform="translate(29.0,33.7) scale(0.915,1)" font-family="Liberation Serif, serif" font-size="13.6" text-anchor="end" fill="#000" >2</text>
<text transform="translate(433.6,225.8) scale(0.915,1)" font-family="Liberation Serif, serif" font-size="13.6" text-anchor="middle" fill="#000" >-3.1416</text>
<text transform="translate(509.35,225.8) scale(0.915,1)" font-family="Liberation Serif, serif" font-size="13.6" text-anchor="middle" fill="#000" >-1.5708</text>
<text transform="translate(585.1,225.8) scale(0.915,1)" font-family="Liberation Serif, serif" font-size="13.6" text-anchor="middle" fill="#000" >0</text>
<text transform="translate(660.85,225.8) scale(0.915,1)" font-family="Liberation Serif, serif" font-size="13.6" text-anchor="middle" fill="#000" >1.5708</text>
<text transform="translate(736.6,225.8) scale(0.915,1)" font-family="Liberation Serif, serif" font-size="13.6" text-anchor="middle" fill="#000" >3.1416</text>
<text transform="translate(431.0,26.9) scale(0.915,1)" font-family="Liberation Serif, serif" font-size="13.6" text-anchor="end" fill="#000" >1</text>
<text transform="translate(431.0,74.94999999999999) scale(0.915,1)" font-family="Liberation Serif, serif" font-size="13.6" text-anchor="end" fill="#000" >0.1</text>
<text transform="translate(431.0,123.0) scale(0.915,1)" font-family="Liberation Serif, serif" font-size="13.6" text-anchor="end" fill="#000" >0.01</text>
<text transform="translate(431.0,171.04999999999998) scale(0.915,1)" font-family="Liberation Serif, serif" font-size="13.6" text-anchor="end" fill="#000" >0.001</text>
<text x="175.55" y="245" font-family="Liberation Serif, serif" font-size="17.5" fill="#000">θ</text><text x="185.05" y="233.8" font-family="Liberation Sans, sans-serif" font-size="9.5" fill="#000">v</text>
<text x="577.9" y="245" font-family="Liberation Serif, serif" font-size="17.5" fill="#000">θ</text><text x="587.4" y="233.8" font-family="Liberation Sans, sans-serif" font-size="9.5" fill="#000">v</text>
<g transform="translate(15.5,124.3) rotate(-90)"><text x="0" y="0" transform="scale(0.95,1)" font-family="Liberation Serif, serif" font-size="16.5" fill="#000">P(θ</text><text x="22.0" y="-11.8" font-family="Liberation Sans, sans-serif" font-size="9.5" fill="#000">v</text><text x="28.3" y="0" font-family="Liberation Serif, serif" font-size="16.5" fill="#000">)</text></g>
<g transform="translate(396.8,124.3) rotate(-90)"><text x="0" y="0" transform="scale(0.95,1)" font-family="Liberation Serif, serif" font-size="16.5" fill="#000">P(θ</text><text x="22.0" y="-11.8" font-family="Liberation Sans, sans-serif" font-size="9.5" fill="#000">v</text><text x="28.3" y="0" font-family="Liberation Serif, serif" font-size="16.5" fill="#000">)</text></g>
<text x="175.9" y="274.6" font-family="Liberation Serif, serif" font-size="16.8" text-anchor="middle" fill="#111" stroke="#fff" stroke-width="0.22" textLength="27" lengthAdjust="spacingAndGlyphs">(a)</text>
<text x="567.6" y="274.6" font-family="Liberation Serif, serif" font-size="16.8" text-anchor="middle" fill="#111" stroke="#fff" stroke-width="0.22" textLength="28" lengthAdjust="spacingAndGlyphs">(b)</text>
<rect x="242.8" y="16.3" width="59.1" height="50.2" fill="#fff" stroke="#3a3a3a" stroke-width="0.9"/><rect x="250.50" y="20.90" width="5.2" height="5.2" fill="none" stroke="#000" stroke-width="1.1"/><text transform="translate(265.40000000000003,26.40) scale(0.93,1)" font-family="Liberation Serif, serif" font-size="8.85" fill="#000">Empirical</text><line x1="246.9" y1="33.35" x2="258.75" y2="33.35" stroke="#ff0000" stroke-width="1.7" stroke-dasharray="6.6 4.2"/><text transform="translate(265.40000000000003,36.25) scale(0.93,1)" font-family="Liberation Serif, serif" font-size="8.85" fill="#000">Full Ell</text><line x1="246.9" y1="42.900000000000006" x2="258.75" y2="42.900000000000006" stroke="#0000ff" stroke-width="1.7" stroke-dasharray="6.6 4.2"/><text transform="translate(265.40000000000003,45.80) scale(0.93,1)" font-family="Liberation Serif, serif" font-size="8.85" fill="#000">NS Ell</text><line x1="246.9" y1="51.45" x2="258.75" y2="51.45" stroke="#008b00" stroke-width="1.7" stroke-dasharray="6.6 4.2"/><text transform="translate(265.40000000000003,54.35) scale(0.93,1)" font-family="Liberation Serif, serif" font-size="8.85" fill="#000">Full Circ</text><line x1="246.9" y1="60.400000000000006" x2="258.75" y2="60.400000000000006" stroke="#ffa500" stroke-width="1.7" stroke-dasharray="6.6 4.2"/><text transform="translate(265.40000000000003,63.30) scale(0.93,1)" font-family="Liberation Serif, serif" font-size="8.85" fill="#000">NS Circ</text>
<rect x="644.9" y="16.3" width="59.1" height="50.2" fill="#fff" stroke="#3a3a3a" stroke-width="0.9"/><rect x="652.60" y="20.90" width="5.2" height="5.2" fill="none" stroke="#000" stroke-width="1.1"/><text transform="translate(667.5,26.40) scale(0.93,1)" font-family="Liberation Serif, serif" font-size="8.85" fill="#000">Empirical</text><line x1="649.0" y1="33.35" x2="660.85" y2="33.35" stroke="#ff0000" stroke-width="1.7" stroke-dasharray="6.6 4.2"/><text transform="translate(667.5,36.25) scale(0.93,1)" font-family="Liberation Serif, serif" font-size="8.85" fill="#000">Full Ell</text><line x1="649.0" y1="42.900000000000006" x2="660.85" y2="42.900000000000006" stroke="#0000ff" stroke-width="1.7" stroke-dasharray="6.6 4.2"/><text transform="translate(667.5,45.80) scale(0.93,1)" font-family="Liberation Serif, serif" font-size="8.85" fill="#000">NS Ell</text><line x1="649.0" y1="51.45" x2="660.85" y2="51.45" stroke="#008b00" stroke-width="1.7" stroke-dasharray="6.6 4.2"/><text transform="translate(667.5,54.35) scale(0.93,1)" font-family="Liberation Serif, serif" font-size="8.85" fill="#000">Full Circ</text><line x1="649.0" y1="60.400000000000006" x2="660.85" y2="60.400000000000006" stroke="#ffa500" stroke-width="1.7" stroke-dasharray="6.6 4.2"/><text transform="translate(667.5,63.30) scale(0.93,1)" font-family="Liberation Serif, serif" font-size="8.85" fill="#000">NS Circ</text>
</svg>
</body></html>
